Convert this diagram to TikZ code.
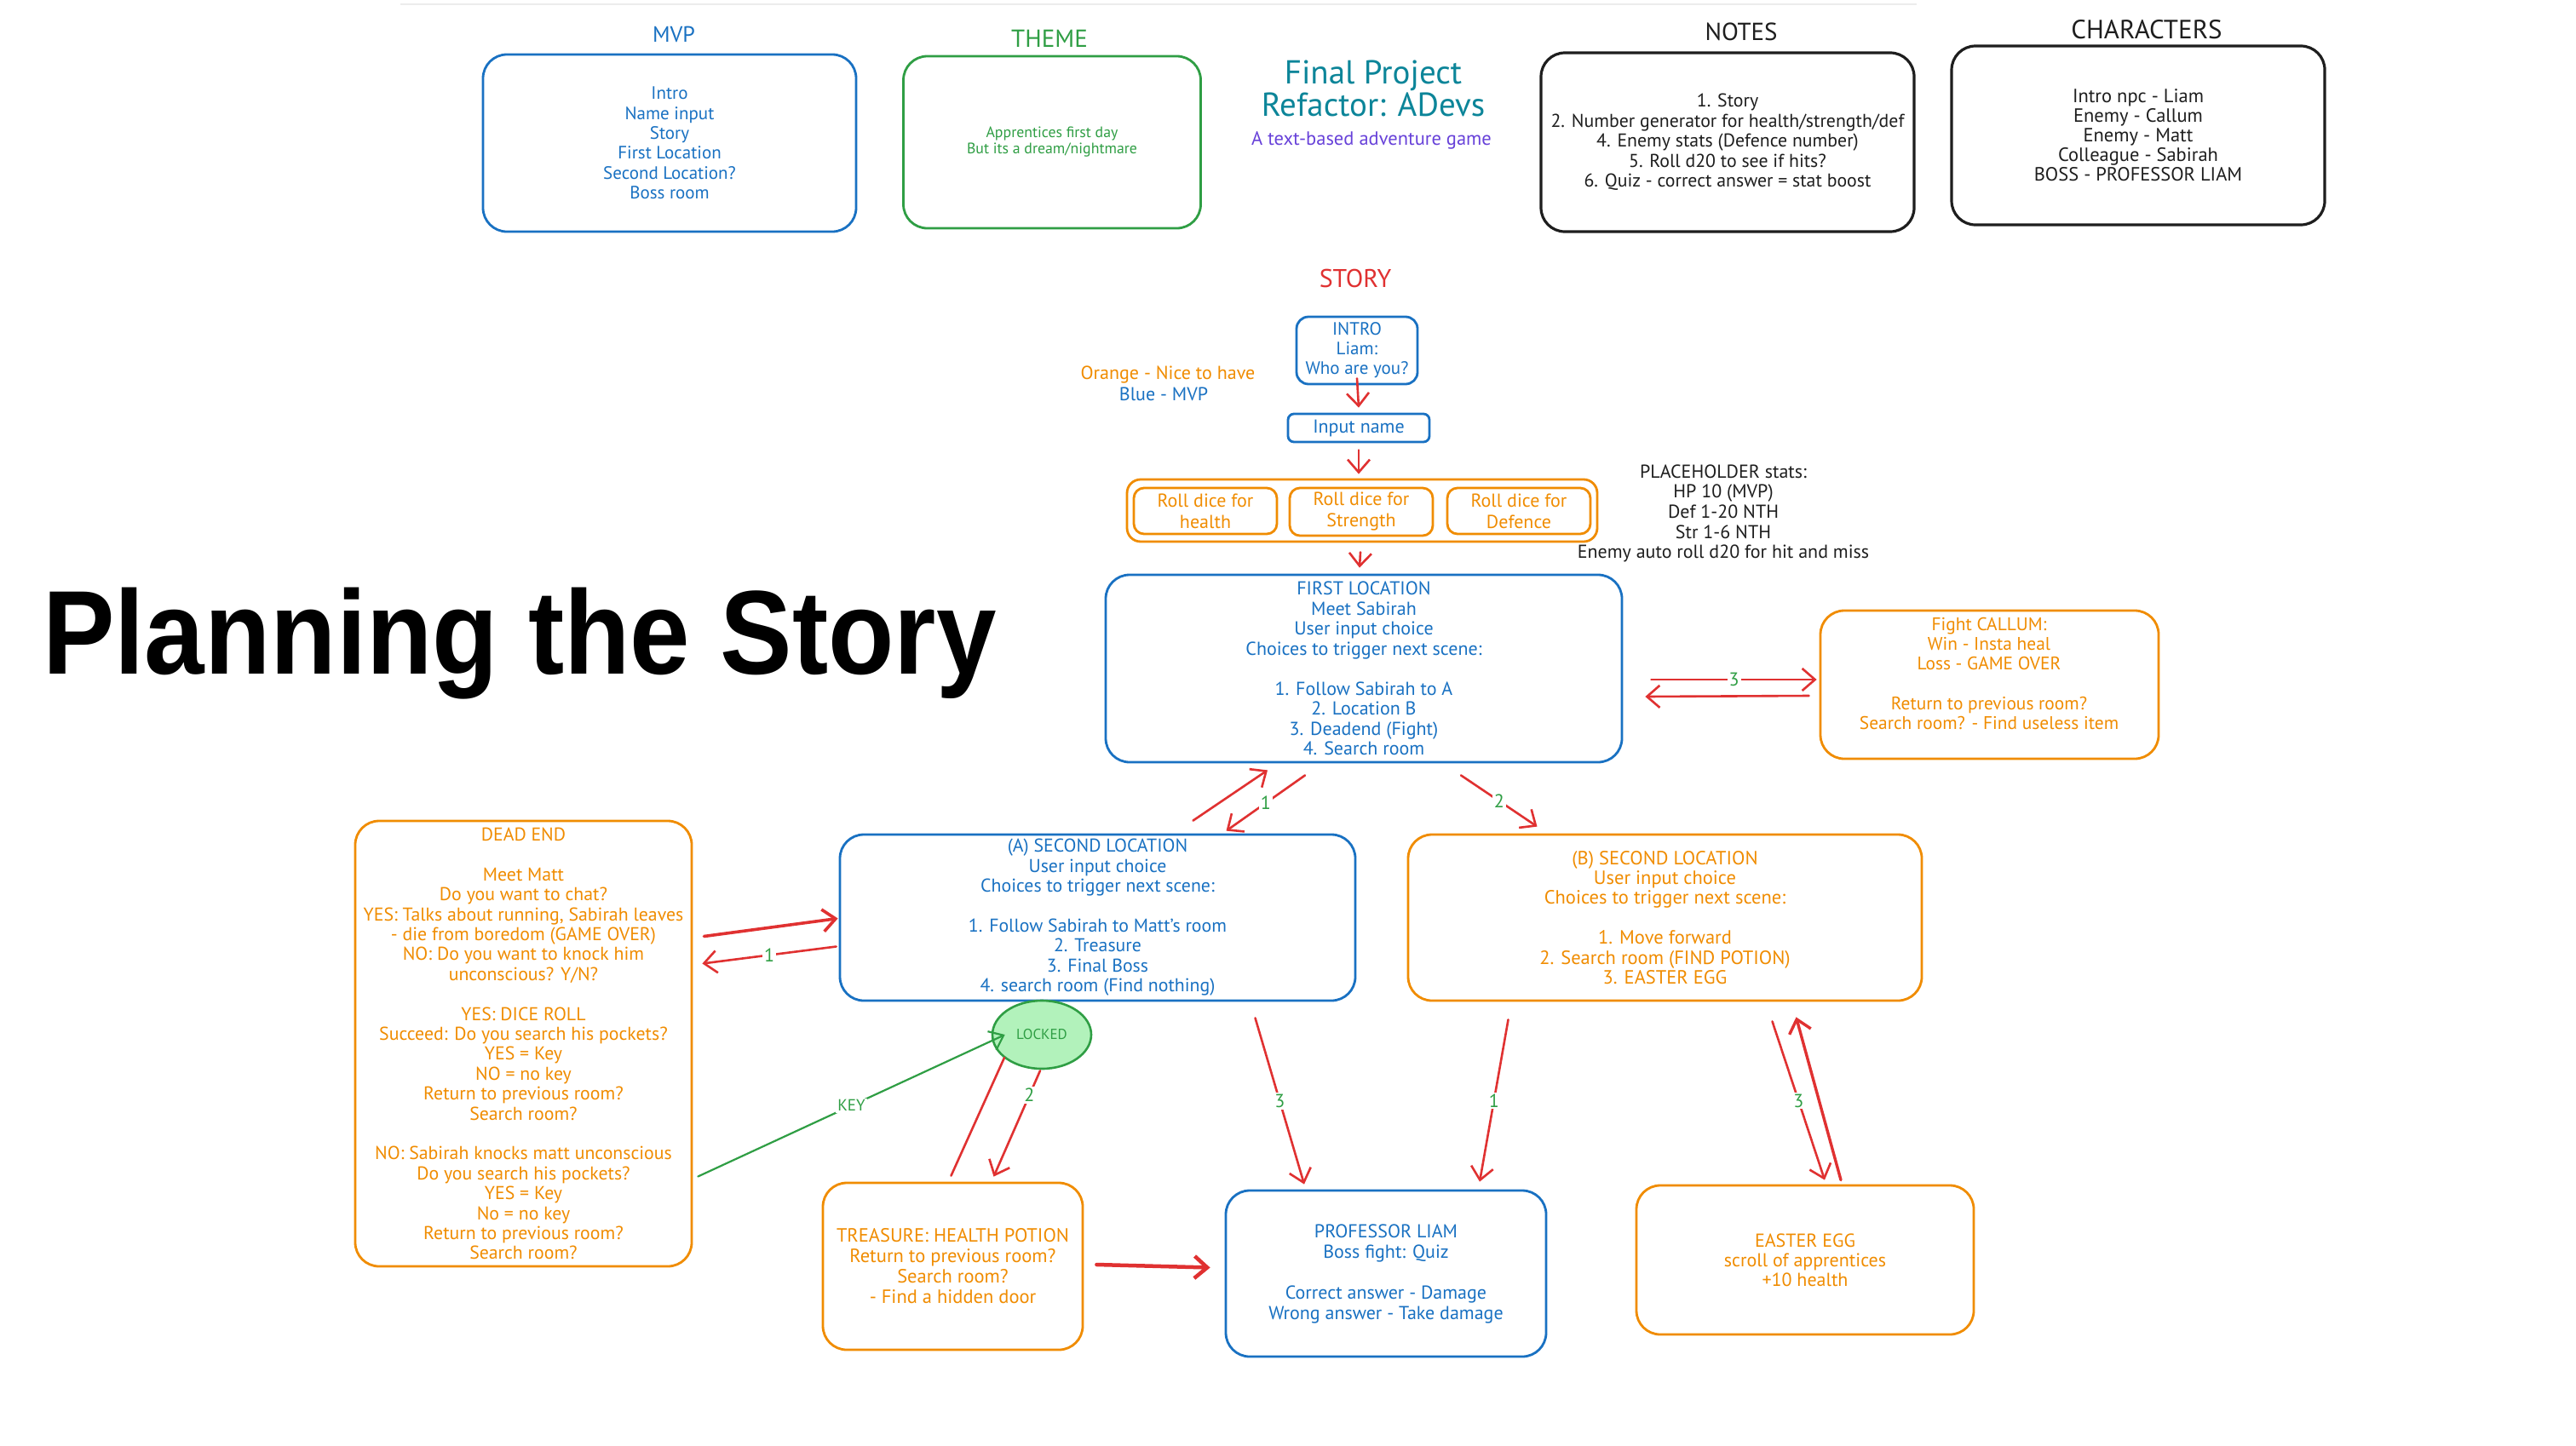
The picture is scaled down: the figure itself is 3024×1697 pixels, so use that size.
\documentclass[tikz,border=0pt]{standalone}
\usepackage{fontspec}
\setmainfont{PT Sans}
\newfontfamily\titlefont{Liberation Sans}
\usetikzlibrary{arrows.meta,calc,shapes.geometric}
\definecolor{xblue}{HTML}{1971C2}
\definecolor{xgreen}{HTML}{2F9E44}
\definecolor{xred}{HTML}{E03131}
\definecolor{xorange}{HTML}{F08C00}
\definecolor{xteal}{HTML}{0C8599}
\definecolor{xpurple}{HTML}{6741D9}
\definecolor{xlgreen}{HTML}{B2F2BB}
\definecolor{xblack}{HTML}{1E1E1E}
\tikzset{
  box/.style={draw, line width=2.8pt, rounded corners=28pt, inner sep=0pt, align=center, font=\fontsize{22}{23.4}\selectfont},
  txt/.style={align=center, inner sep=0pt, font=\fontsize{22}{23.4}\selectfont},
  ttl/.style={inner sep=0pt, font=\fontsize{29}{29}\selectfont},
  arr/.style={draw=xred, line width=2.6pt, line cap=round, -{Straight Barb[length=15pt,width=26pt]}},
  redline/.style={draw=xred, line width=2.6pt, line cap=round},
  keyarr/.style={draw=xgreen, line width=2.2pt, line cap=round, -{Straight Barb[length=15pt,width=24pt]}},
  num/.style={text=xgreen, fill=white, inner sep=2pt, font=\fontsize{22}{22}\selectfont},
}
\begin{document}
\begin{tikzpicture}[x=1pt,y=-1pt]
\useasboundingbox (0,0) rectangle (3024,1697);
\fill[white] (0,0) rectangle (3024,1697);
\draw[gray!15, line width=1.5pt] (470,5) -- (2250,5);

% ---------- top row ----------
\node[ttl, text=xblue, font=\fontsize{26}{26}\selectfont] (mvpttl) at (791,40) {MVP};
\node[box, draw=xblue, text=xblue, minimum width=438pt, minimum height=208pt, font=\fontsize{21}{23.4}\selectfont] (mvp) at (786,168)
  {Intro\\Name input\\Story\\First Location\\Second Location?\\Boss room};

\node[ttl, text=xgreen] (themettl) at (1232,45) {THEME};
\node[box, draw=xgreen, text=xgreen, minimum width=349pt, minimum height=202pt, font=\fontsize{17.8}{19}\selectfont] (theme) at (1235,167)
  {Apprentices first day\\But its a dream/nightmare};

\node[txt, text=xteal, font=\fontsize{39}{38}\selectfont] (fp) at (1612,104) {Final Project\\Refactor: ADevs};
\node[txt, text=xpurple, font=\fontsize{22.5}{22}\selectfont] (sub) at (1610,165) {A text-based adventure game};

\node[ttl, text=xblack] (notesttl) at (2044,37) {NOTES};
\node[box, draw=xblack, text=xblack, line width=3.2pt, minimum width=438pt, minimum height=210pt, font=\fontsize{21.8}{23.4}\selectfont] (notes) at (2028,167)
  {1. Story\\2. Number generator for health/strength/def\\4. Enemy stats (Defence number)\\5. Roll d20 to see if hits?\\6. Quiz - correct answer = stat boost};

\node[ttl, text=xblack, font=\fontsize{31}{31}\selectfont] (charttl) at (2520,35) {CHARACTERS};
\node[box, draw=xblack, text=xblack, line width=3.2pt, minimum width=438pt, minimum height=210pt, font=\fontsize{22.5}{23}\selectfont] (chars) at (2510,159)
  {Intro npc - Liam\\Enemy - Callum\\Enemy - Matt\\Colleague - Sabirah\\BOSS - PROFESSOR LIAM};

% ---------- title ----------
\node[inner sep=0pt, anchor=base west, text=black] (title) at (50,791)
  {\scalebox{0.905}[1]{\titlefont\bfseries\fontsize{140}{140}\selectfont Planning the Story}};

% ---------- story ----------
\node[ttl, text=xred, font=\fontsize{30}{30}\selectfont] (storyttl) at (1591,327) {STORY};
\node[box, draw=xblue, text=xblue, rounded corners=14pt, minimum width=142pt, minimum height=79pt, font=\fontsize{21}{23}\selectfont] (intro) at (1593,411.5)
  {INTRO\\Liam:\\Who are you?};
\node[txt, text=xorange] (legend1) at (1371,440) {Orange - Nice to have};
\node[txt, text=xblue] (legend2) at (1366,463) {Blue - MVP};
\node[box, draw=xblue, text=xblue, rounded corners=7pt, minimum width=166pt, minimum height=33pt] (input) at (1595,502.5) {Input name};

\node[box, draw=xorange, rounded corners=16pt, minimum width=552pt, minimum height=73pt] (dice) at (1599,599.5) {};
\node[box, draw=xorange, text=xorange, rounded corners=12pt, minimum width=168pt, minimum height=54pt, font=\fontsize{22}{25}\selectfont] (dh) at (1415,600) {Roll dice for\\health};
\node[box, draw=xorange, text=xorange, rounded corners=12pt, minimum width=168pt, minimum height=56pt, font=\fontsize{22}{25}\selectfont] (ds) at (1598,601) {Roll dice for\\Strength};
\node[box, draw=xorange, text=xorange, rounded corners=12pt, minimum width=168pt, minimum height=54pt, font=\fontsize{22}{25}\selectfont] (dd) at (1783,600) {Roll dice for\\Defence};

\node[txt, text=xblack, font=\fontsize{22}{23.7}\selectfont] (stats) at (2023,603)
  {PLACEHOLDER stats:\\HP 10 (MVP)\\Def 1-20 NTH\\Str 1-6 NTH\\Enemy auto roll d20 for hit and miss};

\node[box, draw=xblue, text=xblue, minimum width=606pt, minimum height=220pt, font=\fontsize{22}{23.5}\selectfont] (first) at (1601,785)
  {FIRST LOCATION\\Meet Sabirah\\User input choice\\Choices to trigger next scene:\\~\\1. Follow Sabirah to A\\2. Location B\\3. Deadend (Fight)\\4. Search room};

\node[box, draw=xorange, minimum width=397pt, minimum height=174pt] (fight) at (2335.5,804) {};
\node[txt, text=xorange, font=\fontsize{21.4}{23.3}\selectfont] (fightT) at (2335,791)
  {Fight CALLUM:\\Win - Insta heal\\Loss - GAME OVER\\~\\Return to previous room?\\Search room? - Find useless item};

\node[box, draw=xorange, text=xorange, minimum width=395pt, minimum height=523pt, font=\fontsize{21.8}{23.4}\selectfont] (deadend) at (614.5,1225.5)
  {DEAD END\\~\\Meet Matt\\Do you want to chat?\\YES: Talks about running, Sabirah leaves\\- die from boredom (GAME OVER)\\NO: Do you want to knock him\\unconscious? Y/N?\\~\\YES: DICE ROLL\\Succeed: Do you search his pockets?\\YES = Key\\NO = no key\\Return to previous room?\\Search room?\\~\\NO: Sabirah knocks matt unconscious\\Do you search his pockets?\\YES = Key\\No = no key\\Return to previous room?\\Search room?};

\node[box, draw=xblue, text=xblue, minimum width=605pt, minimum height=195pt, font=\fontsize{21.8}{23.4}\selectfont] (seca) at (1288.5,1077.5)
  {(A) SECOND LOCATION\\User input choice\\Choices to trigger next scene:\\~\\1. Follow Sabirah to Matt's room\\2. Treasure\\3. Final Boss\\4. search room (Find nothing)};

\node[box, draw=xorange, text=xorange, minimum width=603pt, minimum height=195pt, font=\fontsize{22.5}{23.4}\selectfont] (secb) at (1954.5,1077.5)
  {(B) SECOND LOCATION\\User input choice\\Choices to trigger next scene:\\~\\1. Move forward\\2. Search room (FIND POTION)\\3. EASTER EGG};

\node[box, draw=xorange, text=xorange, minimum width=305pt, minimum height=196pt, font=\fontsize{22.5}{24}\selectfont] (treasure) at (1118.5,1487)
  {TREASURE: HEALTH POTION\\Return to previous room?\\Search room?\\- Find a hidden door};

\node[box, draw=xblue, text=xblue, minimum width=376pt, minimum height=195pt, font=\fontsize{22}{24}\selectfont] (prof) at (1627,1495.5)
  {PROFESSOR LIAM\\Boss fight: Quiz\\~\\Correct answer - Damage\\Wrong answer - Take damage};

\node[box, draw=xorange, text=xorange, minimum width=396pt, minimum height=175pt, font=\fontsize{22}{23}\selectfont] (easter) at (2119,1479.5)
  {EASTER EGG\\scroll of apprentices\\+10 health};

\node[ellipse, draw=xgreen, fill=xlgreen, line width=2.6pt, minimum width=116pt, minimum height=80pt, inner sep=0pt, text=xgreen, font=\fontsize{17}{17}\selectfont] (locked) at (1223,1215) {LOCKED};

% ---------- connectors ----------
\draw[arr] ($(intro.south)+(0,-8)$) -- ($(input.north)+(0,-6)$);
\draw[arr] ($(input.south)+(0,8)$) -- ($(dice.north)+(-4,-5)$);
\draw[arr] ($(dice.south)+(-2,11)$) -- ($(first.north)+(-5,-7)$);

\draw[arr] ($(first.east)+(33,13)$) -- node[num]{3} ($(fight.west)+(-3,-6)$);
\draw[arr] ($(fight.west)+(-12,13)$) -- ($(first.east)+(26,33)$);

\draw[arr] ($(seca.north)+(112,-15)$) -- ($(first.south)+(-113,8)$);
\draw[arr] ($(first.south)+(-69,14)$) -- node[num]{1} ($(seca.north)+(151,-3)$);
\draw[arr] ($(first.south)+(114,14)$) -- node[num]{2} ($(secb.north)+(-150,-8)$);

\draw[arr, line width=3.6pt] ($(deadend.east)+(13,-126)$) -- ($(seca.west)+(-1,1)$);
\draw[arr] ($(seca.west)+(-3,34)$) -- node[num]{1} ($(deadend.east)+(11,-94)$);

\draw[keyarr] ($(deadend.east)+(6,156)$) -- node[text=xgreen, fill=white, inner sep=2pt, font=\fontsize{19}{19}\selectfont]{KEY} ($(locked.west)+(16,0)$);

\draw[redline] ($(treasure.north)+(-2,-7)$) -- ($(locked.center)+(-44,27)$);
\draw[arr] ($(locked.south)+(-2,1)$) -- node[num, pos=0.23]{2} ($(treasure.north)+(48,-6)$);

\draw[arr, line width=4.5pt] ($(treasure.east)+(15,-2)$) -- ($(prof.west)+(-17,-7)$);

\draw[arr] ($(seca.south)+(185,19)$) -- node[num]{3} ($(prof.north)+(-96,-6)$);
\draw[arr] ($(secb.south)+(-184,21)$) -- node[num]{1} ($(prof.north)+(110,-9)$);

\draw[arr] ($(secb.south)+(126,23)$) -- node[num]{3} ($(easter.north)+(23,-5)$);
\draw[arr, line width=3.4pt] ($(easter.north)+(42,-5)$) -- ($(secb.south)+(154,18)$);
\end{tikzpicture}
\end{document}
